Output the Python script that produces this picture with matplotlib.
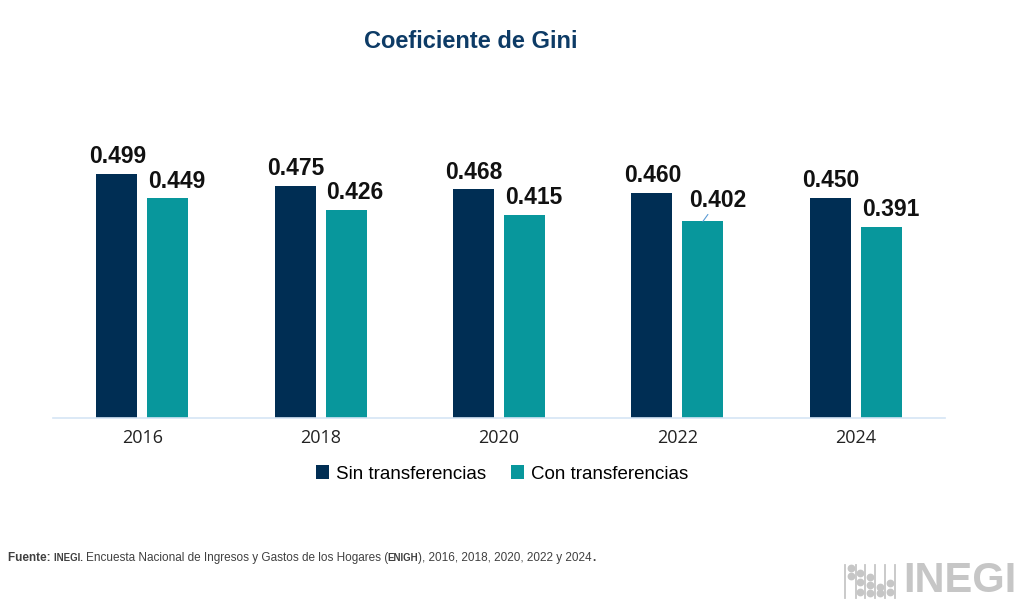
import matplotlib.pyplot as plt
import numpy as np

plt.rcParams['font.family'] = ['Liberation Sans', 'DejaVu Sans']

# datos
anios = ['2016', '2018', '2020', '2022', '2024']
sin_transf = [0.499, 0.475, 0.468, 0.460, 0.450]
con_transf = [0.449, 0.426, 0.415, 0.402, 0.391]

azul = '#002E54'
verde = '#08979C'

fig = plt.figure(figsize=(10.24, 6.16), dpi=100)
W, H = 1024, 616
ax = fig.add_axes([53 / W, 1 - 418 / H, 892 / W, 269 / H])

x = np.arange(len(anios))
ancho = 0.23
desp = 0.143
b1 = ax.bar(x - desp, sin_transf, ancho, color=azul, label='Sin transferencias')
b2 = ax.bar(x + desp, con_transf, ancho, color=verde, label='Con transferencias')

estilo = dict(ha='center', va='bottom', fontsize=16.5, fontweight='bold', color='#111111',
              textcoords='offset points')
for xi, v in zip(x - desp, sin_transf):
    ax.annotate(f'{v:.3f}', (xi, v), xytext=(0.5, 4), **estilo)
for i, (xi, v) in enumerate(zip(x + desp, con_transf)):
    if anios[i] == '2022':
        ax.annotate(f'{v:.3f}', (xi, v), xytext=(11, 7), **estilo,
                    arrowprops=dict(arrowstyle='-', color='#5B9BD5', lw=0.8,
                                    shrinkA=0, shrinkB=0))
    else:
        ax.annotate(f'{v:.3f}', (xi, v), xytext=(6.5, 4), **estilo)

ax.set_xlim(-0.5, len(anios) - 0.5)
ax.set_ylim(0, 0.55)
ax.set_xticks(x)
ax.set_xticklabels(anios, fontsize=13, color='#222222', family=['Open Sans', 'DejaVu Sans'])
ax.tick_params(axis='x', length=0, pad=8)
ax.set_yticks([])
for s in ['top', 'right', 'left']:
    ax.spines[s].set_visible(False)
ax.spines['bottom'].set_color('#D5E5F5')
ax.spines['bottom'].set_linewidth(1.2)

fig.legend(handles=[b1, b2], loc='center', bbox_to_anchor=(502 / W, 1 - 474 / H),
           ncol=2, frameon=False, fontsize=13.5, handlelength=0.7, handleheight=0.7,
           handletextpad=0.4, columnspacing=1.3)

fig.text(471 / W, 1 - 42 / H, 'Coeficiente de Gini', ha='center', va='center',
         fontsize=17, fontweight='bold', color='#0D3B66')

# fuente, en trozos
partes = [('Fuente:\u00a0', 8.5, 'bold'), ('INEGI.\u00a0', 7, 'bold'),
          ('Encuesta Nacional de Ingresos y Gastos de los Hogares (', 8.5, 'normal'),
          ('ENIGH', 7, 'bold'), ('), 2016, 2018, 2020, 2022 y 2024', 8.5, 'normal'),
          ('.', 8.5, 'bold')]
fig.canvas.draw()
rend = fig.canvas.get_renderer()
xp = 8
for txt, fs, fw in partes:
    t = fig.text(xp / W, 1 - 561 / H, txt, ha='left', va='baseline',
                 fontsize=fs, fontweight=fw, color='#404040')
    bb = t.get_window_extent(renderer=rend)
    xp += bb.width

# logo
gris = '#C6C6C6'
fig.text(1017 / W, 1 - 581 / H, 'INEGI', ha='right', va='center', fontsize=30,
         fontweight='heavy', color=gris)
puntos = [(851, 568), (851, 576), (860, 573), (860, 582), (860, 592),
          (870, 577), (870, 585), (870, 593), (880, 587), (880, 593),
          (890, 583), (890, 592)]
fig.add_artist(plt.Line2D([p[0] / W for p in puntos], [1 - p[1] / H for p in puntos],
                          ls='none', marker='o', ms=4.6, color=gris,
                          transform=fig.transFigure))
for xl in [845, 855.5, 865, 875, 885, 895]:
    fig.add_artist(plt.Line2D([xl / W, xl / W], [1 - 598 / H, 1 - 565 / H], lw=1.3,
                              color=gris, transform=fig.transFigure))

fig.savefig('out.png', dpi=100)
